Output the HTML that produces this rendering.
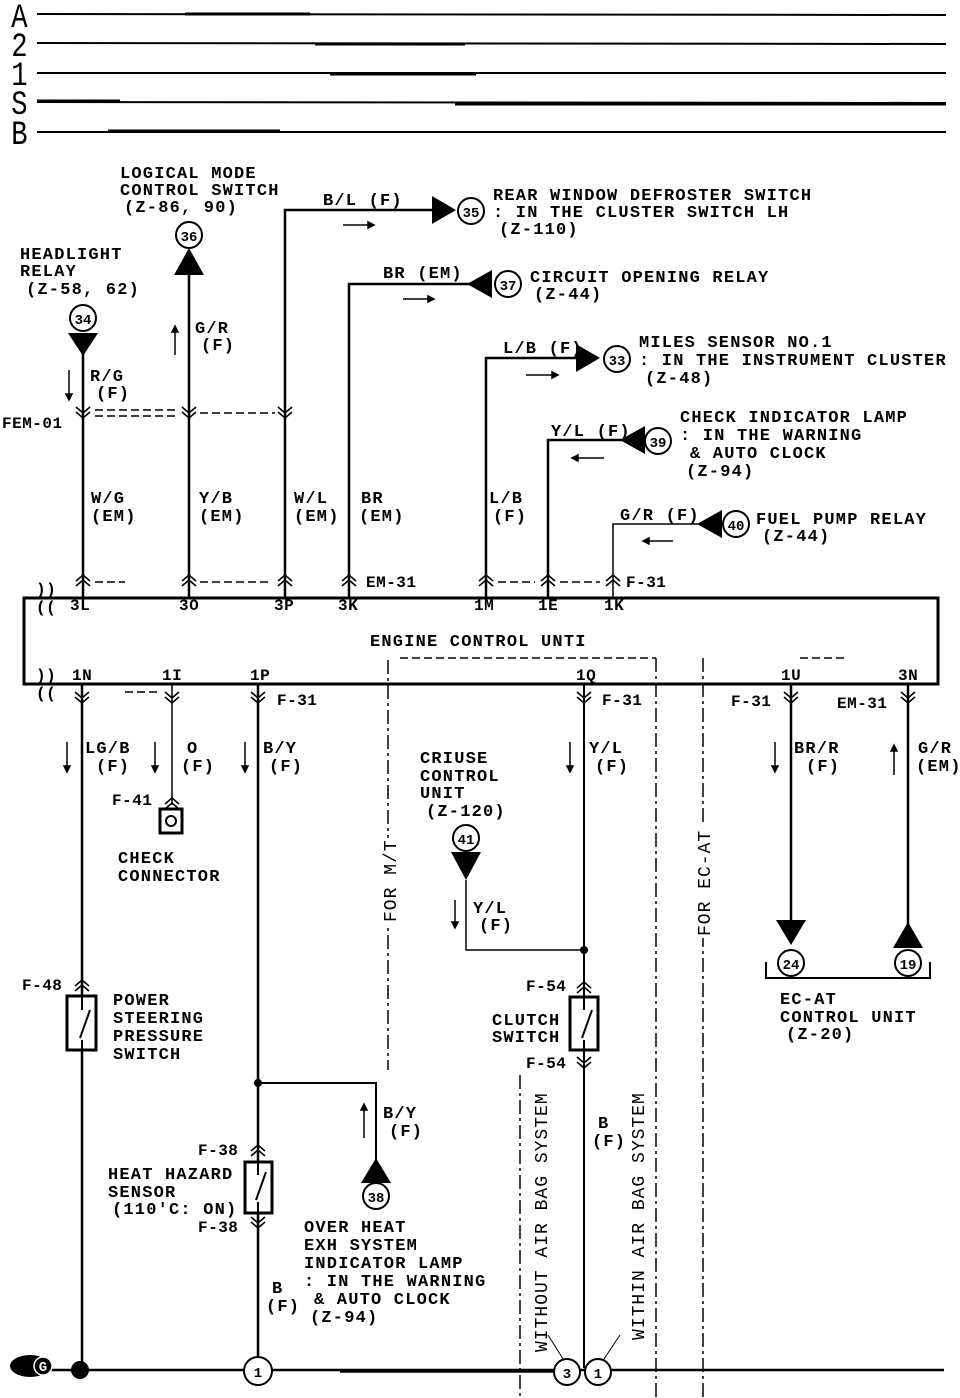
<!DOCTYPE html>
<html><head><style>
html,body{margin:0;padding:0;background:#fff;}
svg{display:block;}
text{font-family:"Liberation Mono",monospace;font-weight:bold;font-size:17px;letter-spacing:1.2px;fill:#000;}
.c{font-size:16px;letter-spacing:0.5px;}
.n{font-size:14px;letter-spacing:0;}
.v{font-size:18px;letter-spacing:1px;font-weight:normal;}
.r{font-size:34px;font-weight:normal;letter-spacing:0;}
</style></head><body>
<svg width="960" height="1398" viewBox="0 0 960 1398" xmlns="http://www.w3.org/2000/svg">
<defs>
<g id="fu"><path d="M-7,6 L0,0 L7,6 M-7,11 L0,5 L7,11" fill="none" stroke="#000" stroke-width="1.6"/></g>
<g id="fd"><path d="M-7,-6 L0,0 L7,-6 M-7,-11 L0,-5 L7,-11" fill="none" stroke="#000" stroke-width="1.6"/></g>
</defs>
<g stroke="#000" stroke-width="2">
<line x1="37" y1="14" x2="946" y2="15"/><line x1="185" y1="14" x2="310" y2="14" stroke-width="3"/>
<line x1="37" y1="43" x2="946" y2="44"/><line x1="315" y1="44" x2="465" y2="44" stroke-width="3"/>
<line x1="37" y1="73" x2="946" y2="73"/><line x1="330" y1="74" x2="476" y2="74" stroke-width="3"/>
<line x1="37" y1="102" x2="946" y2="103"/><line x1="37" y1="101" x2="120" y2="101" stroke-width="3"/><line x1="455" y1="104" x2="946" y2="104" stroke-width="3"/>
<line x1="37" y1="132" x2="946" y2="132"/><line x1="108" y1="131" x2="280" y2="131" stroke-width="3"/>
</g>
<g transform="scale(0.8,1)">
<text class="r" x="14" y="27">A</text>
<text class="r" x="14" y="56">2</text>
<text class="r" x="14" y="85">1</text>
<text class="r" x="14" y="114">S</text>
<text class="r" x="14" y="144">B</text>
</g>

<rect x="24" y="598" width="914" height="86" fill="none" stroke="#000" stroke-width="3"/>
<text x="370" y="646">ENGINE CONTROL UNTI</text>
<text x="70" y="610" class="c">3L</text><text x="179" y="610" class="c">3O</text><text x="274" y="610" class="c">3P</text><text x="338" y="610" class="c">3K</text>
<text x="474" y="610" class="c">1M</text><text x="538" y="610" class="c">1E</text><text x="604" y="610" class="c">1K</text>
<text x="72" y="680" class="c">1N</text><text x="162" y="680" class="c">1I</text><text x="250" y="680" class="c">1P</text>
<text x="576" y="680" class="c">1Q</text><text x="781" y="680" class="c">1U</text><text x="898" y="680" class="c">3N</text>
<text x="36" y="594" class="c" font-weight="normal">))</text><text x="36" y="612" class="c" font-weight="normal">((</text>
<text x="36" y="680" class="c" font-weight="normal">))</text><text x="36" y="698" class="c" font-weight="normal">((</text>

<g stroke="#000" stroke-width="1.5" fill="none" stroke-dasharray="8,4">
<line x1="95" y1="582" x2="125" y2="582"/><line x1="200" y1="582" x2="272" y2="582"/><line x1="498" y1="582" x2="535" y2="582"/><line x1="560" y1="582" x2="600" y2="582"/>
<line x1="95" y1="410" x2="175" y2="410"/><line x1="95" y1="416" x2="175" y2="416"/><line x1="200" y1="413" x2="275" y2="413"/>
<line x1="125" y1="692" x2="160" y2="692"/>
<line x1="400" y1="658" x2="656" y2="658"/>
<line x1="800" y1="658" x2="848" y2="658"/>
</g>
<g stroke="#000" stroke-width="1.5" fill="none" stroke-dasharray="14,4,3,4">
<line x1="388" y1="660" x2="388" y2="1070"/>
<line x1="656" y1="658" x2="656" y2="1398"/>
<line x1="703" y1="658" x2="703" y2="1398"/>
<line x1="520" y1="1075" x2="520" y2="1398"/>
</g>
<rect x="380" y="838" width="16" height="86" fill="#fff"/>
<rect x="695" y="826" width="16" height="112" fill="#fff"/>
<text transform="translate(396,922) rotate(-90)" class="v">FOR M/T</text>
<text transform="translate(710,936) rotate(-90)" class="v">FOR EC-AT</text>
<text transform="translate(547,1352) rotate(-90)" class="v">WITHOUT AIR BAG SYSTEM</text>
<text transform="translate(644,1340) rotate(-90)" class="v">WITHIN AIR BAG SYSTEM</text>

<g stroke="#000" stroke-width="2.5" fill="none">
<line x1="83" y1="350" x2="83" y2="598"/>
<line x1="189" y1="272" x2="189" y2="598"/>
<polyline points="285,598 285,210 435,210"/>
<polyline points="349,598 349,284 470,284"/>
<polyline points="486,598 486,358 578,358"/>
<polyline points="548,598 548,440 622,440"/>
<polyline points="613,598 613,524 698,524" stroke-width="1.5"/>
</g>
<g fill="#000">
<polygon points="68,333 98,333 83,356"/>
<polygon points="174,275 204,275 189,248"/>
<polygon points="432,196 432,224 456,210"/>
<polygon points="492,270 492,298 467,284"/>
<polygon points="576,344 576,372 600,358"/>
<polygon points="645,426 645,454 620,440"/>
<polygon points="722,510 722,538 697,524"/>
</g>
<g fill="#fff" stroke="#000" stroke-width="2">
<circle cx="83" cy="318" r="13"/><circle cx="189" cy="235" r="13"/><circle cx="471" cy="211" r="13"/>
<circle cx="508" cy="284" r="13"/><circle cx="617" cy="359" r="13"/><circle cx="658" cy="441" r="13"/><circle cx="736" cy="524" r="13"/>
</g>
<g text-anchor="middle">
<text x="83" y="324" class="n">34</text><text x="189" y="241" class="n">36</text><text x="471" y="217" class="n">35</text>
<text x="508" y="290" class="n">37</text><text x="617" y="365" class="n">33</text><text x="658" y="447" class="n">39</text><text x="736" y="530" class="n">40</text>
</g>
<use href="#fd" x="83" y="418"/><use href="#fd" x="189" y="418"/><use href="#fd" x="285" y="418"/>
<use href="#fu" x="83" y="575"/><use href="#fu" x="189" y="575"/><use href="#fu" x="285" y="575"/><use href="#fu" x="349" y="575"/>
<use href="#fu" x="486" y="575"/><use href="#fu" x="548" y="575"/><use href="#fu" x="613" y="575"/>
<g stroke="#000" stroke-width="1.5" fill="#000">
<line x1="69" y1="370" x2="69" y2="398"/><polygon points="66,394 72,394 69,400"/>
<line x1="175" y1="330" x2="175" y2="355"/><polygon points="172,332 178,332 175,326"/>
<line x1="343" y1="225" x2="372" y2="225"/><polygon points="368,222 368,228 374,225"/>
<line x1="403" y1="299" x2="432" y2="299"/><polygon points="428,296 428,302 434,299"/>
<line x1="526" y1="375" x2="556" y2="375"/><polygon points="552,372 552,378 558,375"/>
<line x1="575" y1="458" x2="604" y2="458"/><polygon points="578,455 578,461 572,458"/>
<line x1="646" y1="541" x2="673" y2="541"/><polygon points="649,538 649,544 643,541"/>
</g>
<text x="120" y="178">LOGICAL MODE</text><text x="120" y="195">CONTROL SWITCH</text><text x="124" y="212">(Z-86, 90)</text>
<text x="20" y="259">HEADLIGHT</text><text x="20" y="276">RELAY</text><text x="26" y="294">(Z-58, 62)</text>
<text x="90" y="381">R/G</text><text x="96" y="398">(F)</text>
<text x="195" y="333">G/R</text><text x="201" y="350">(F)</text>
<text x="2" y="428" class="c">FEM-01</text>
<text x="323" y="205">B/L (F)</text>
<text x="383" y="278">BR (EM)</text>
<text x="503" y="353">L/B (F)</text>
<text x="551" y="436">Y/L (F)</text>
<text x="620" y="520">G/R (F)</text>
<text x="493" y="200">REAR WINDOW DEFROSTER SWITCH</text><text x="493" y="217">: IN THE CLUSTER SWITCH LH</text><text x="499" y="234">(Z-110)</text>
<text x="530" y="282">CIRCUIT OPENING RELAY</text><text x="534" y="299">(Z-44)</text>
<text x="639" y="347">MILES SENSOR NO.1</text><text x="639" y="365">: IN THE INSTRUMENT CLUSTER</text><text x="645" y="383">(Z-48)</text>
<text x="680" y="422">CHECK INDICATOR LAMP</text><text x="680" y="440">: IN THE WARNING</text><text x="690" y="458">&amp; AUTO CLOCK</text><text x="686" y="476">(Z-94)</text>
<text x="756" y="524">FUEL PUMP RELAY</text><text x="762" y="541">(Z-44)</text>
<text x="91" y="503">W/G</text><text x="91" y="521">(EM)</text>
<text x="199" y="503">Y/B</text><text x="199" y="521">(EM)</text>
<text x="294" y="503">W/L</text><text x="294" y="521">(EM)</text>
<text x="361" y="503">BR</text><text x="359" y="521">(EM)</text>
<text x="489" y="503">L/B</text><text x="493" y="521">(F)</text>
<text x="366" y="587" class="c">EM-31</text><text x="626" y="587" class="c">F-31</text>

<g stroke="#000" stroke-width="2.5" fill="none">
<line x1="82" y1="684" x2="82" y2="1370"/>
<line x1="172" y1="684" x2="172" y2="805" stroke-width="1.5"/>
<line x1="258" y1="684" x2="258" y2="1358"/>
<polyline points="258,1083 376,1083 376,1160" stroke-width="2"/>
<line x1="584" y1="684" x2="584" y2="1368" stroke-width="2"/>
<polyline points="466,880 466,950 584,950" stroke-width="1.5"/>
<line x1="791" y1="684" x2="791" y2="925"/>
<line x1="908" y1="684" x2="908" y2="925"/>
<polyline points="766,962 766,978 930,978 930,962" stroke-width="2"/>
<line x1="48" y1="1370" x2="944" y2="1370"/>
<line x1="340" y1="1371" x2="555" y2="1371" stroke-width="3.5"/>
<line x1="548" y1="1335" x2="565" y2="1362" stroke-width="1"/>
<line x1="620" y1="1335" x2="602" y2="1362" stroke-width="1"/>
</g>
<g fill="#000"><circle cx="258" cy="1083" r="4"/><circle cx="584" cy="950" r="4"/><circle cx="80" cy="1370" r="9"/>
<ellipse cx="30" cy="1366" rx="20" ry="11"/>
<polygon points="451,852 481,852 466,880"/>
<polygon points="361,1183 391,1183 376,1158"/>
<polygon points="776,920 806,920 791,945"/>
<polygon points="893,948 923,948 908,922"/></g>
<g fill="#fff" stroke="#000" stroke-width="2">
<circle cx="466" cy="838" r="13"/><circle cx="376" cy="1196" r="13"/><circle cx="791" cy="963" r="13"/><circle cx="908" cy="963" r="13"/>
<circle cx="258" cy="1371" r="14"/><circle cx="567" cy="1372" r="13"/><circle cx="598" cy="1372" r="13"/>
</g>
<circle cx="43" cy="1366" r="9" fill="#000" stroke="#fff" stroke-width="1.5"/>
<g text-anchor="middle">
<text x="466" y="844" class="n">41</text><text x="376" y="1202" class="n">38</text><text x="791" y="969" class="n">24</text><text x="908" y="969" class="n">19</text>
<text x="258" y="1377" class="n">1</text><text x="567" y="1378" class="n">3</text><text x="598" y="1378" class="n">1</text><text x="43" y="1371" class="n" style="fill:#fff">G</text>
</g>
<g fill="#fff" stroke="#000" stroke-width="3">
<rect x="160" y="809" width="22" height="24"/>
<rect x="67" y="996" width="29" height="54"/>
<rect x="570" y="997" width="28" height="53"/>
<rect x="245" y="1162" width="27" height="51"/>
</g>
<circle cx="171" cy="821" r="5" fill="none" stroke="#000" stroke-width="2"/>
<g stroke="#000" stroke-width="2" fill="none">
<path d="M82,996 V1010 M82,1040 V1050 M80,1038 L90,1010"/>
<path d="M584,997 V1010 M584,1040 V1050 M582,1038 L592,1010"/>
<path d="M258,1162 V1175 M258,1202 V1213 M256,1200 L266,1172"/>
</g>
<use href="#fd" x="82" y="703"/><use href="#fd" x="172" y="703"/><use href="#fd" x="258" y="703"/><use href="#fd" x="584" y="703"/><use href="#fd" x="791" y="703"/><use href="#fd" x="908" y="703"/>
<use href="#fu" x="172" y="798"/><use href="#fu" x="82" y="980"/><use href="#fu" x="584" y="982"/><use href="#fd" x="584" y="1068"/>
<use href="#fu" x="258" y="1145"/><use href="#fd" x="258" y="1228"/>
<g stroke="#000" stroke-width="1.5" fill="#000">
<line x1="67" y1="742" x2="67" y2="770"/><polygon points="64,766 70,766 67,772"/>
<line x1="155" y1="742" x2="155" y2="770"/><polygon points="152,766 158,766 155,772"/>
<line x1="245" y1="742" x2="245" y2="770"/><polygon points="242,766 248,766 245,772"/>
<line x1="570" y1="742" x2="570" y2="770"/><polygon points="567,766 573,766 570,772"/>
<line x1="775" y1="742" x2="775" y2="770"/><polygon points="772,766 778,766 775,772"/>
<line x1="894" y1="748" x2="894" y2="775"/><polygon points="891,751 897,751 894,745"/>
<line x1="455" y1="900" x2="455" y2="925"/><polygon points="452,922 458,922 455,928"/>
<line x1="364" y1="1108" x2="364" y2="1138"/><polygon points="361,1110 367,1110 364,1104"/>
</g>
<text x="277" y="705" class="c">F-31</text><text x="602" y="705" class="c">F-31</text><text x="731" y="706" class="c">F-31</text><text x="837" y="708" class="c">EM-31</text>
<text x="85" y="753">LG/B</text><text x="96" y="771">(F)</text>
<text x="187" y="753">O</text><text x="181" y="771">(F)</text>
<text x="263" y="753">B/Y</text><text x="269" y="771">(F)</text>
<text x="589" y="753">Y/L</text><text x="595" y="771">(F)</text>
<text x="794" y="753">BR/R</text><text x="806" y="771">(F)</text>
<text x="918" y="753">G/R</text><text x="916" y="771">(EM)</text>
<text x="112" y="805" class="c">F-41</text>
<text x="118" y="863">CHECK</text><text x="118" y="881">CONNECTOR</text>
<text x="420" y="763">CRIUSE</text><text x="420" y="781">CONTROL</text><text x="420" y="798">UNIT</text><text x="426" y="816">(Z-120)</text>
<text x="473" y="913">Y/L</text><text x="479" y="930">(F)</text>
<text x="780" y="1004">EC-AT</text><text x="780" y="1022">CONTROL UNIT</text><text x="786" y="1039">(Z-20)</text>
<text x="22" y="990" class="c">F-48</text>
<text x="113" y="1005">POWER</text><text x="113" y="1023">STEERING</text><text x="113" y="1041">PRESSURE</text><text x="113" y="1059">SWITCH</text>
<text x="526" y="991" class="c">F-54</text><text x="526" y="1068" class="c">F-54</text>
<text x="492" y="1025">CLUTCH</text><text x="492" y="1042">SWITCH</text>
<text x="198" y="1155" class="c">F-38</text><text x="198" y="1232" class="c">F-38</text>
<text x="108" y="1179">HEAT HAZARD</text><text x="108" y="1197">SENSOR</text><text x="112" y="1214">(110'C: ON)</text>
<text x="383" y="1118">B/Y</text><text x="389" y="1136">(F)</text>
<text x="304" y="1232">OVER HEAT</text><text x="304" y="1250">EXH SYSTEM</text><text x="304" y="1268">INDICATOR LAMP</text><text x="304" y="1286">: IN THE WARNING</text><text x="314" y="1304">&amp; AUTO CLOCK</text><text x="310" y="1322">(Z-94)</text>
<text x="272" y="1293">B</text><text x="266" y="1311">(F)</text>
<text x="598" y="1128">B</text><text x="592" y="1146">(F)</text>
</svg>
</body></html>
